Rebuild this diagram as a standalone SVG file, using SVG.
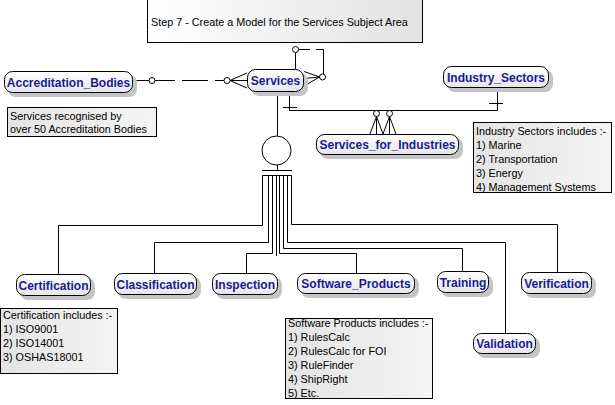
<svg xmlns="http://www.w3.org/2000/svg" width="615" height="405" viewBox="0 0 615 405">
<style>
.ent{fill:url(#eg);stroke:#000;stroke-width:1}
.sh{fill:#c4c4c4}
.et{font-family:"Liberation Sans",Arial,sans-serif;font-weight:bold;font-size:12px;fill:#1a1a96;text-anchor:middle}
.note{fill:url(#ng);stroke:#000;stroke-width:1}
.nt{font-family:"Liberation Sans",Arial,sans-serif;font-size:10.8px;fill:#000}
.ln{fill:none;stroke:#000;stroke-width:1}
.oc{fill:#fff;stroke:#000;stroke-width:1}
</style>
<defs>
<linearGradient id="eg" x1="0" y1="0" x2="0" y2="1"><stop offset="0" stop-color="#ffffff"/><stop offset="1" stop-color="#e6e6ea"/></linearGradient>
<linearGradient id="ng" x1="0" y1="0" x2="1" y2="0"><stop offset="0" stop-color="#e4e4e4"/><stop offset="1" stop-color="#f4f4f4"/></linearGradient>
<linearGradient id="tg" x1="0" y1="0" x2="1" y2="0"><stop offset="0" stop-color="#ffffff"/><stop offset="1" stop-color="#e2e2e2"/></linearGradient>
</defs>
<rect width="615" height="405" fill="#fff"/>

<g id="title">
<rect x="147.5" y="-1" width="275" height="43.5" fill="url(#tg)" stroke="#000"/>
<text class="nt" x="151" y="26">Step 7 - Create a Model for the Services Subject Area</text>
</g>

<g id="connectors">
<path class="ln" d="M133 80.5H149M155 80.5H175M182 80.5H208M215 80.5H224"/>
<circle class="oc" cx="152" cy="80.5" r="3"/>
<circle class="oc" cx="227" cy="80.5" r="3"/>
<path class="ln" d="M230 80.5L247 73M230 80.5H247M230 80.5L247 88"/>
<path class="ln" d="M295.5 69V52.5M298.5 49.5H310M316 49.5H323.5V74"/>
<circle class="oc" cx="295.5" cy="49.5" r="3"/>
<circle class="oc" cx="322.5" cy="77" r="3"/>
<path class="ln" d="M319.5 77L304 71.5M319.5 77L304 78.5M319.5 77L304 86"/>
<path class="ln" d="M289.5 92V110.5H497.5V88M283 107.5H297M489 103.5H503"/>
<circle class="oc" cx="376.5" cy="113.5" r="3"/>
<circle class="oc" cx="389.5" cy="113.5" r="3"/>
<path class="ln" d="M376.5 116.5L370 134M376.5 116.5V134M376.5 116.5L383 134M389.5 116.5L383 134M389.5 116.5V134M389.5 116.5L396 134"/>
<path class="ln" d="M277.5 92V136M277.5 165V170.5M262 170.5H292M262.5 175.5H291.5"/>
<circle class="ln" cx="276.5" cy="150.5" r="14.5"/>
<path class="ln" d="M262.5 175.5V225.5H58.5V274"/>
<path class="ln" d="M268.5 175.5V242.5H154.5V273"/>
<path class="ln" d="M272.5 175.5V253.5H246.5V273"/>
<path class="ln" d="M276.5 175.5V256"/>
<path class="ln" d="M279.5 175.5V253.5H356.5V273"/>
<path class="ln" d="M283.5 175.5V248.5H462.5V271"/>
<path class="ln" d="M287.5 175.5V242.5H505.5V333"/>
<path class="ln" d="M291.5 175.5V224.5H557.5V272"/>
</g>

<g id="Accreditation_Bodies">
<rect class="sh" x="8" y="75" width="129" height="22" rx="8"/>
<rect class="ent" x="4.5" y="71.5" width="128" height="21" rx="8"/>
<text class="et" x="68.5" y="86.5">Accreditation_Bodies</text>
</g>
<g id="Services">
<rect class="sh" x="251" y="73" width="57" height="23" rx="8"/>
<rect class="ent" x="247.5" y="69.5" width="56" height="22" rx="8"/>
<text class="et" x="275.5" y="85">Services</text>
</g>
<g id="Industry_Sectors">
<rect class="sh" x="447" y="70" width="106" height="22" rx="8"/>
<rect class="ent" x="443.5" y="66.5" width="105" height="21" rx="8"/>
<text class="et" x="496" y="81.5">Industry_Sectors</text>
</g>
<g id="Services_for_Industries">
<rect class="sh" x="320" y="138" width="143" height="21" rx="8"/>
<rect class="ent" x="316.5" y="134.5" width="142" height="20" rx="8"/>
<text class="et" x="387.5" y="149">Services_for_Industries</text>
</g>
<g id="Certification">
<rect class="sh" x="20" y="278" width="75" height="22" rx="8"/>
<rect class="ent" x="16.5" y="274.5" width="74" height="21" rx="8"/>
<text class="et" x="53.5" y="289.5">Certification</text>
</g>
<g id="Classification">
<rect class="sh" x="118" y="277" width="83" height="22" rx="8"/>
<rect class="ent" x="114.5" y="273.5" width="82" height="21" rx="8"/>
<text class="et" x="155.5" y="288.5">Classification</text>
</g>
<g id="Inspection">
<rect class="sh" x="216" y="277" width="66" height="22" rx="8"/>
<rect class="ent" x="212.5" y="273.5" width="65" height="21" rx="8"/>
<text class="et" x="245" y="288.5">Inspection</text>
</g>
<g id="Software_Products">
<rect class="sh" x="301" y="277" width="118" height="21" rx="8"/>
<rect class="ent" x="297.5" y="273.5" width="117" height="20" rx="8"/>
<text class="et" x="356" y="288">Software_Products</text>
</g>
<g id="Training">
<rect class="sh" x="441" y="275" width="52" height="22" rx="8"/>
<rect class="ent" x="437.5" y="271.5" width="51" height="21" rx="8"/>
<text class="et" x="463" y="286.5">Training</text>
</g>
<g id="Verification">
<rect class="sh" x="525" y="276" width="71" height="22" rx="8"/>
<rect class="ent" x="521.5" y="272.5" width="70" height="21" rx="8"/>
<text class="et" x="556.5" y="287.5">Verification</text>
</g>
<g id="Validation">
<rect class="sh" x="477" y="337" width="63" height="21" rx="8"/>
<rect class="ent" x="473.5" y="333.5" width="62" height="20" rx="8"/>
<text class="et" x="504.5" y="348">Validation</text>
</g>

<g id="note_services">
<rect class="note" x="7.5" y="107.5" width="149" height="29"/>
<text class="nt" x="10" y="120">Services recognised by</text>
<text class="nt" x="10" y="133">over 50 Accreditation Bodies</text>
</g>
<g id="note_industry">
<rect class="note" x="473.5" y="122.5" width="138" height="70"/>
<text class="nt" x="476" y="135">Industry Sectors includes :-</text>
<text class="nt" x="476" y="149">1) Marine</text>
<text class="nt" x="476" y="163">2) Transportation</text>
<text class="nt" x="476" y="177">3) Energy</text>
<text class="nt" x="476" y="191">4) Management Systems</text>
</g>
<g id="note_certification">
<rect class="note" x="0.5" y="308.5" width="117" height="65"/>
<text class="nt" x="3" y="319">Certification includes :-</text>
<text class="nt" x="3" y="333">1) ISO9001</text>
<text class="nt" x="3" y="347">2) ISO14001</text>
<text class="nt" x="3" y="361">3) OSHAS18001</text>
</g>
<g id="note_software">
<rect class="note" x="285.5" y="318.5" width="147" height="80"/>
<text class="nt" x="288" y="327">Software Products includes :-</text>
<text class="nt" x="288" y="341">1) RulesCalc</text>
<text class="nt" x="288" y="355">2) RulesCalc for FOI</text>
<text class="nt" x="288" y="369">3) RuleFinder</text>
<text class="nt" x="288" y="383">4) ShipRight</text>
<text class="nt" x="288" y="397">5) Etc.</text>
</g>
</svg>
